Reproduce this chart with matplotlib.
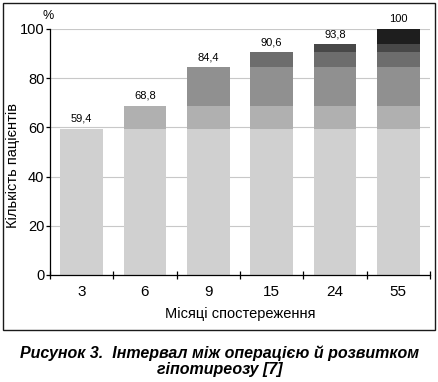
import matplotlib.pyplot as plt
import numpy as np
from matplotlib.patches import Rectangle

plt.rcParams['font.family'] = ['Liberation Sans', 'DejaVu Sans']

months = ['3', '6', '9', '15', '24', '55']
totals = [59.4, 68.8, 84.4, 90.6, 93.8, 100]
total_labels = ['59,4', '68,8', '84,4', '90,6', '93,8', '100']
colors = ['#d0d0d0', '#b0b0b0', '#909090', '#6d6d6d', '#484848', '#1e1e1e']

fig = plt.figure(figsize=(4.39, 3.82), dpi=100)
ax = fig.add_axes([50 / 439, 1 - 275 / 382, 380 / 439, 246 / 382])

x = np.arange(len(months))
# кожен шар стовпчика - приріст від попереднього підсумку
prev = 0
for k in range(len(totals)):
    step = totals[k] - prev
    h = [step if i >= k else 0 for i in range(len(months))]
    b = [prev] * len(months)
    ax.bar(x, h, bottom=b, width=0.67, color=colors[k], zorder=2, clip_on=False)
    prev = totals[k]

for i, lab in enumerate(total_labels):
    ax.text(x[i], totals[i] + 2, lab, ha='center', va='bottom', fontsize=8)

ax.set_xlim(-0.5, len(months) - 0.5)
ax.set_ylim(0, 100)
ax.set_yticks(range(0, 101, 20))
ax.yaxis.grid(True, color='#c8c8c8', linewidth=0.8, zorder=0)
ax.set_axisbelow(True)
for s in ['top', 'right']:
    ax.spines[s].set_visible(False)
ax.spines['left'].set_linewidth(0.9)
ax.spines['bottom'].set_linewidth(0.9)

ax.set_xticks(x)
ax.set_xticklabels(months, fontsize=11)
ax.tick_params(axis='x', length=0, pad=7)
ax.set_xticks(np.arange(-0.5, len(months)), minor=True)
ax.tick_params(axis='x', which='minor', direction='inout', length=6, width=0.9)
ax.tick_params(axis='y', direction='out', length=3, width=0.9, labelsize=10.5, pad=1)

ax.set_xlabel('Місяці спостереження', fontsize=10.5, labelpad=6)
fig.text(13 / 439, 1 - 165 / 382, 'Кількість пацієнтів', rotation=90,
         ha='center', va='center', fontsize=10.5)
ax.text(-0.53, 103, '%', ha='center', va='bottom', fontsize=9)

# рамка навколо рисунка
fig.patches.append(Rectangle((3 / 439, 1 - 330 / 382), 432 / 439, 327 / 382,
                             transform=fig.transFigure, fill=False,
                             edgecolor='#1a1a1a', linewidth=1.0))

fig.text(0.5, 1 - 361 / 382, 'Рисунок 3.  Інтервал між операцією й розвитком\nгіпотиреозу [7]',
         ha='center', va='center', fontsize=11.5, fontweight='bold', fontstyle='italic',
         linespacing=1.05)

fig.savefig('out.png', dpi=100)
